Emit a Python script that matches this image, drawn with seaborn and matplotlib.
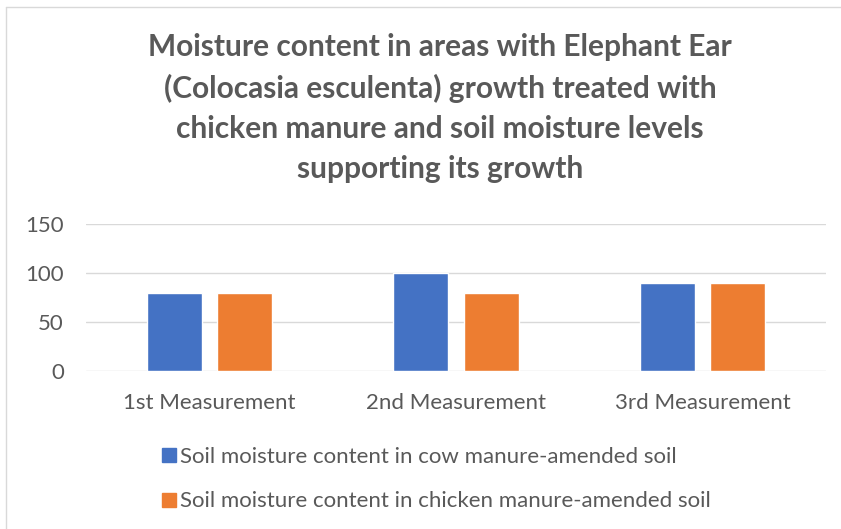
import seaborn as sns
import pandas as pd
import matplotlib.pyplot as plt
from matplotlib.lines import Line2D

categories = ["1st Measurement", "2nd Measurement", "3rd Measurement"]
series_names = ["Soil moisture content in cow manure-amended soil",
                "Soil moisture content in chicken manure-amended soil"]
cow_values = [80, 100, 90]
chicken_values = [80, 80, 90]
y_ticks = [0, 50, 100, 150]

title = ("Moisture content in areas with Elephant Ear\n"
         "(Colocasia esculenta) growth treated with\n"
         "chicken manure and soil moisture levels\n"
         "supporting its growth")

df = pd.DataFrame({
    "cat": categories * 2,
    "value": cow_values + chicken_values,
    "series": [series_names[0]] * 3 + [series_names[1]] * 3,
})

sns.set_style("white")
plt.rcParams['font.family'] = ['Lato', 'DejaVu Sans']
txt = "#595959"
colors = ["#4472C4", "#ED7D31"]

fig = plt.figure(figsize=(8.41, 5.29), dpi=100)
ax = fig.add_axes([86 / 841, (529 - 371) / 529, (826 - 86) / 841, (371 - 224) / 529])

sns.barplot(data=df, x="cat", y="value", hue="series", palette=colors,
            saturation=1, width=0.57, gap=0.22,
            ax=ax, legend=False, zorder=3)

ax.set_ylim(0, 150)
ax.set_yticks(y_ticks)
ax.set_xlim(-0.5, 2.5)
ax.grid(axis="y", color="#d9d9d9", linewidth=1, zorder=0)
ax.set_xlabel("")
ax.set_ylabel("")
for s in ax.spines.values():
    s.set_visible(False)
ax.tick_params(axis="both", length=0, labelsize=16, colors=txt)
ax.tick_params(axis="y", pad=16)
ax.tick_params(axis="x", pad=16)

fig.text(440 / 841, 1 - 108 / 529, title, ha="center", va="center",
         fontsize=21.5, fontweight="bold", color=txt, linespacing=1.52)

handles = [Line2D([], [], marker="s", linestyle="none", markersize=10.5,
                  color=c) for c in colors]
fig.legend(handles, series_names, loc="upper left",
           bbox_to_anchor=(151 / 841, 1 - 438 / 529), frameon=False,
           fontsize=16, labelcolor=txt, handlelength=0.8,
           handletextpad=0.1, labelspacing=1.1, borderaxespad=0)

fig.add_artist(Line2D([6 / 841, 6 / 841], [0, 1 - 7 / 529], color="#d9d9d9",
                      linewidth=1, transform=fig.transFigure))
fig.add_artist(Line2D([6 / 841, 1], [1 - 7 / 529, 1 - 7 / 529], color="#d9d9d9",
                      linewidth=1, transform=fig.transFigure))

fig.savefig("out.png", dpi=100)
